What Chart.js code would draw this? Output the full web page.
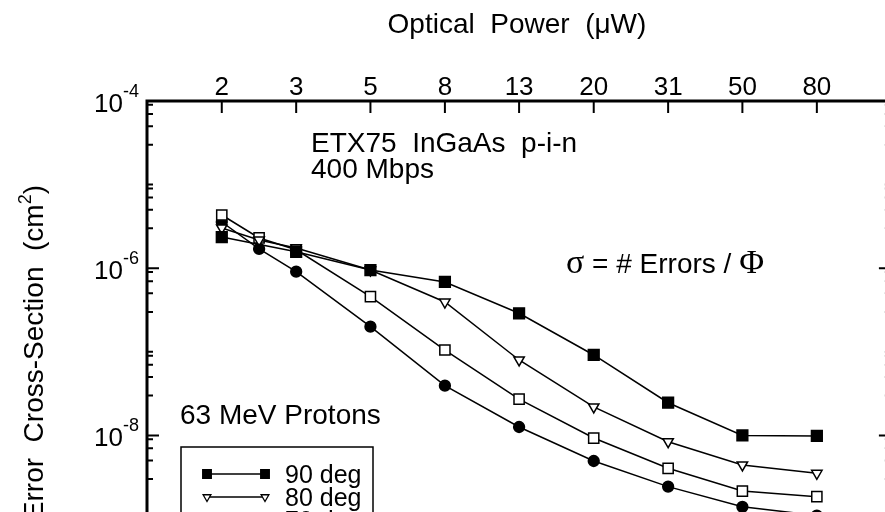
<!DOCTYPE html>
<html>
<head>
<meta charset="utf-8">
<script src="https://cdn.jsdelivr.net/npm/chart.js@4.4.1/dist/chart.umd.min.js"></script>
<style>
  html, body { margin: 0; padding: 0; background: #fff; width: 885px; height: 512px; overflow: hidden; }
  canvas { display: block; }
</style>
</head>
<body>
<canvas id="chart" width="900" height="540"></canvas>
<script>
// optical power (uW); ticks are 2 dB apart, labelled with rounded values
const power = [2, 2.52, 3.17, 5.02, 7.96, 12.6, 20, 31.7, 50.2, 79.6];
const tickPower = [2, 3.17, 5.02, 7.96, 12.6, 20, 31.7, 50.2, 79.6];
const tickLabels = ["2", "3", "5", "8", "13", "20", "31", "50", "80"];

// error cross-section (cm^2)
const deg90 = [2.36e-6, null, 1.57e-6, 9.5e-7, 6.84e-7, 2.89e-7, 9.16e-8, 2.46e-8, 1.0e-8, 9.84e-9];
const deg80 = [3.03e-6, 2.17e-6, 1.74e-6, 9.5e-7, 3.94e-7, 7.98e-8, 2.19e-8, 8.41e-9, 4.43e-9, 3.52e-9];
const deg70 = [4.33e-6, 2.30e-6, 1.66e-6, 4.56e-7, 1.05e-7, 2.72e-8, 9.3e-9, 4.04e-9, 2.16e-9, 1.85e-9];
const deg60 = [3.57e-6, 1.70e-6, 9.08e-7, 2.0e-7, 3.93e-8, 1.26e-8, 4.94e-9, 2.44e-9, 1.40e-9, 1.1e-9];
const seriesNames = ["90 deg", "80 deg", "70 deg", "60 deg"];

const yLabelExp = [-4, -6, -8];

const SANS = '"Liberation Sans", Arial, sans-serif';
const SERIF = '"Liberation Serif", "Times New Roman", serif';

const styles = [
  { pointStyle: "rect", radius: 7.6, fill: "#000", rotation: 0 },
  { pointStyle: "triangle", radius: 6, fill: "#fff", rotation: 180 },
  { pointStyle: "rect", radius: 7.2, fill: "#fff", rotation: 0 },
  { pointStyle: "circle", radius: 5.4, fill: "#000", rotation: 0 },
];

const series = [deg90, deg80, deg70, deg60];
const datasets = series.map((vals, i) => ({
  label: seriesNames[i],
  data: vals.map((v, j) => ({ x: power[j], y: v })),
  borderColor: "#000",
  borderWidth: 1.5,
  backgroundColor: styles[i].fill,
  pointStyle: styles[i].pointStyle,
  pointRadius: styles[i].radius,
  pointRotation: styles[i].rotation,
  pointBorderColor: "#000",
  pointBackgroundColor: styles[i].fill,
  pointBorderWidth: 1.5,
  spanGaps: true,
  tension: 0,
  fill: false,
}));

function marker(ctx, style, x, y, r) {
  ctx.save();
  ctx.beginPath();
  if (style.pointStyle === "rect") {
    const s = r * Math.SQRT1_2;
    ctx.rect(x - s, y - s, 2 * s, 2 * s);
  } else if (style.pointStyle === "circle") {
    ctx.arc(x, y, r, 0, Math.PI * 2);
  } else {
    ctx.moveTo(x - r * 0.866, y - r * 0.5);
    ctx.lineTo(x + r * 0.866, y - r * 0.5);
    ctx.lineTo(x, y + r);
    ctx.closePath();
  }
  ctx.fillStyle = style.fill;
  ctx.fill();
  ctx.lineWidth = 1.3;
  ctx.strokeStyle = "#000";
  ctx.stroke();
  ctx.restore();
}

const frame = {
  id: "frame",
  afterDraw(chart) {
    const { ctx, chartArea: a, scales: { x, y } } = chart;
    ctx.save();
    ctx.strokeStyle = "#000";
    ctx.fillStyle = "#000";

    // box
    ctx.lineWidth = 3;
    ctx.beginPath();
    ctx.moveTo(a.left, a.bottom);
    ctx.lineTo(a.left, a.top);
    ctx.lineTo(a.right, a.top);
    ctx.lineTo(a.right, a.bottom);
    ctx.stroke();

    // top ticks + labels
    ctx.lineWidth = 2;
    ctx.font = "26px " + SANS;
    ctx.textAlign = "center";
    ctx.textBaseline = "alphabetic";
    tickPower.forEach((p, i) => {
      const px = x.getPixelForValue(p);
      ctx.beginPath();
      ctx.moveTo(px, a.top);
      ctx.lineTo(px, a.top + 12);
      ctx.stroke();
      ctx.fillText(tickLabels[i], px, a.top - 6);
    });

    // left/right ticks
    for (let e = -9; e < -4; e++) {
      [1, 3, 5, 7, 9].forEach((m) => {
        const v = m * Math.pow(10, e);
        if (v > 1.0001e-4 || v < 0.999e-9) return;
        const py = y.getPixelForValue(v);
        const major = m === 1 && e % 2 === 0;
        const len = major ? 12 : 6;
        ctx.beginPath();
        ctx.moveTo(a.left, py);
        ctx.lineTo(a.left + len, py);
        ctx.moveTo(a.right, py);
        ctx.lineTo(a.right - len, py);
        ctx.stroke();
      });
    }

    // y labels 10^n
    yLabelExp.forEach((e) => {
      const py = y.getPixelForValue(Math.pow(10, e));
      ctx.textAlign = "right";
      ctx.font = "18px " + SANS;
      ctx.fillText(String(e), 139, py - 4);
      const w = ctx.measureText(String(e)).width;
      ctx.font = "26px " + SANS;
      ctx.fillText("10", 139 - w, py + 11);
    });

    // axis titles
    ctx.textAlign = "center";
    ctx.font = "28px " + SANS;
    ctx.fillText("Optical  Power  (\u03bcW)", (a.left + a.right) / 2 - 2, 33);

    ctx.save();
    ctx.translate(43, 185);
    ctx.rotate(-Math.PI / 2);
    ctx.textAlign = "right";
    ctx.font = "28px " + SANS;
    const close = ")";
    const wClose = ctx.measureText(close).width;
    ctx.fillText(close, 0, 0);
    ctx.font = "18px " + SANS;
    const wSup = ctx.measureText("2").width;
    ctx.fillText("2", -wClose, -12);
    ctx.font = "28px " + SANS;
    ctx.fillText("Error  Cross-Section  (cm", -wClose - wSup, 0);
    ctx.restore();

    // annotations
    ctx.textAlign = "left";
    ctx.font = "28px " + SANS;
    ctx.fillText("ETX75  InGaAs  p-i-n", 311, 152);
    ctx.fillText("400 Mbps", 311, 178);
    ctx.fillText("63 MeV Protons", 180, 424);

    let tx = 566;
    ctx.font = "34px " + SERIF;
    ctx.fillText("\u03c3", tx, 273);
    tx += ctx.measureText("\u03c3").width;
    ctx.font = "28px " + SANS;
    ctx.fillText(" = # Errors / ", tx, 273);
    tx += ctx.measureText(" = # Errors / ").width;
    ctx.font = "34px " + SERIF;
    ctx.fillText("\u03a6", tx, 273);

    // legend
    ctx.lineWidth = 1.5;
    ctx.strokeRect(181, 447, 192, 120);
    seriesNames.forEach((name, i) => {
      const ly = 474 + i * 23;
      ctx.lineWidth = 1.5;
      ctx.beginPath();
      ctx.moveTo(207, ly);
      ctx.lineTo(265, ly);
      ctx.stroke();
      const st = styles[i];
      const r = st.pointStyle === "triangle" ? 4.5 : st.radius * 0.8;
      marker(ctx, st, 207, ly, r);
      marker(ctx, st, 265, ly, r);
      ctx.font = "25px " + SANS;
      ctx.fillText(name, 285, ly + 9);
    });

    ctx.restore();
  },
};

new Chart(document.getElementById("chart"), {
  type: "line",
  data: { datasets },
  options: {
    responsive: false,
    animation: false,
    layout: { padding: { left: 147, top: 101, right: 6, bottom: 21 } },
    plugins: { legend: { display: false }, tooltip: { enabled: false } },
    scales: {
      x: { type: "logarithmic", min: 1.2589, max: 125.89, display: false },
      y: { type: "logarithmic", min: 1e-9, max: 1e-4, display: false },
    },
  },
  plugins: [frame],
});
</script>
</body>
</html>
